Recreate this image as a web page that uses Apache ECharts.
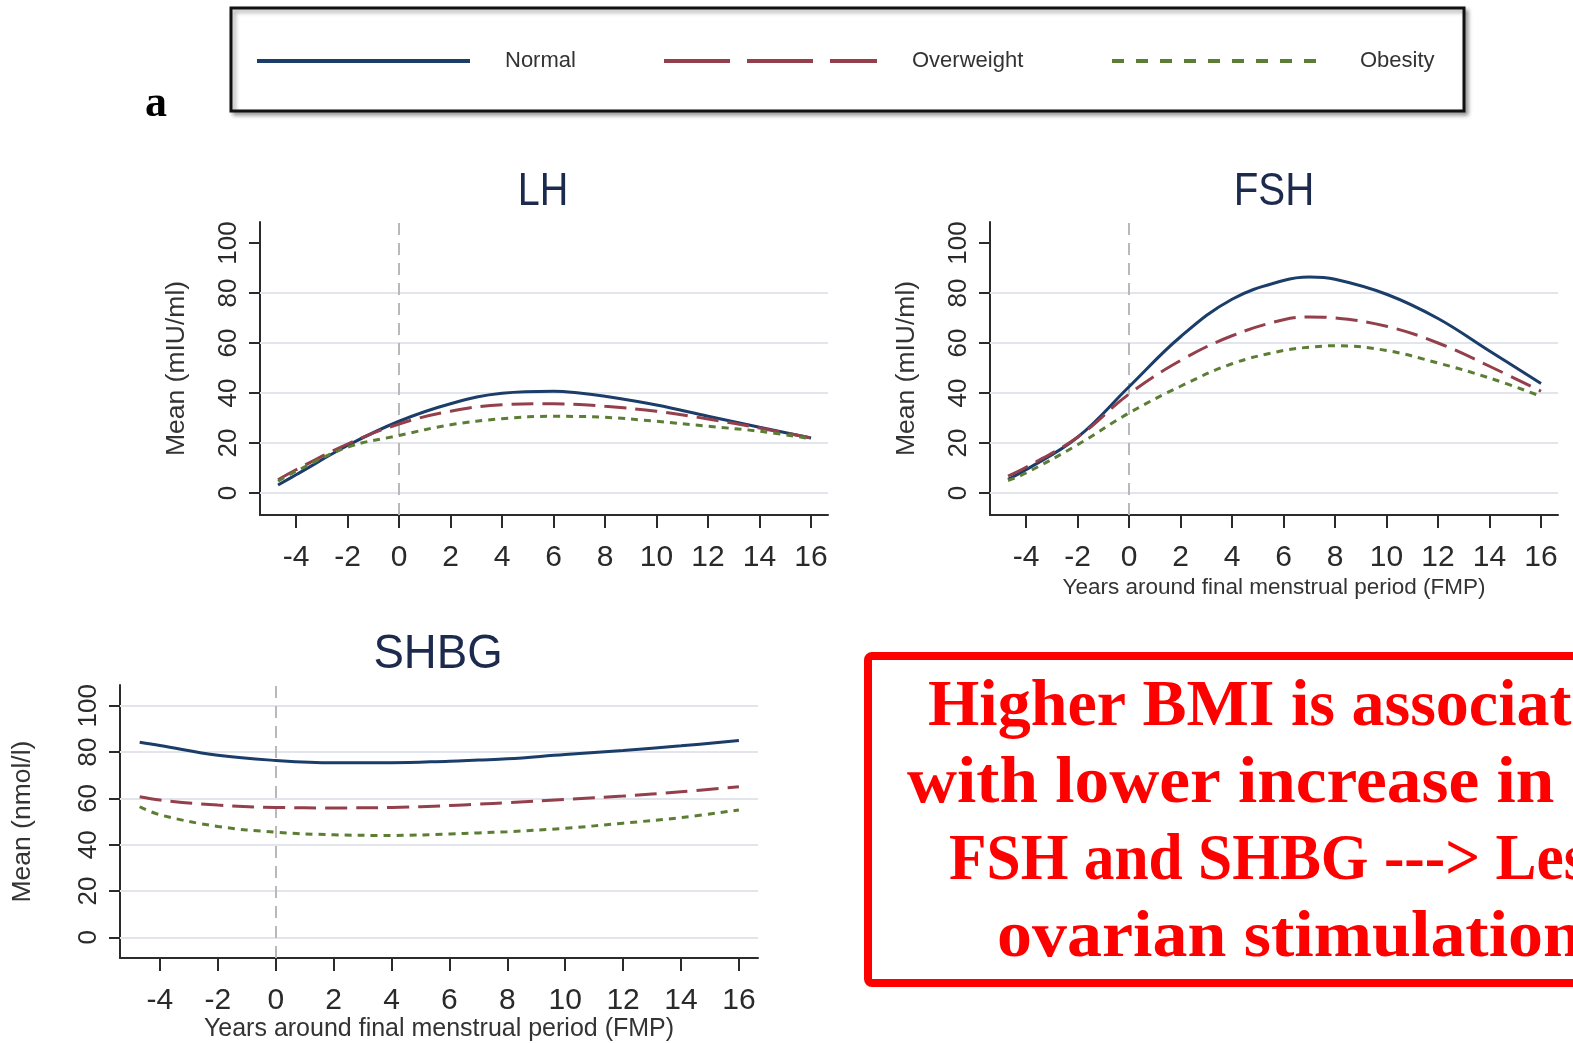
<!DOCTYPE html>
<html>
<head>
<meta charset="utf-8">
<script src="https://cdn.jsdelivr.net/npm/echarts@6/dist/echarts.min.js"></script>
<style>
html,body{margin:0;padding:0;background:#fff;}
#chart{width:1573px;height:1043px;}
</style>
</head>
<body>
<div id="chart"></div>
<script>
// ---- data ----
const years = [-4.7, -4, -2, 0, 2, 4, 6, 7, 8, 10, 12, 14, 16];
const xTicks = [-4, -2, 0, 2, 4, 6, 8, 10, 12, 14, 16];
const yTicks = [0, 20, 40, 60, 80, 100];
const groups = ['Normal', 'Overweight', 'Obesity'];
const panelTitles = ['LH', 'FSH', 'SHBG'];
const yNames = ['Mean (mIU/ml)', 'Mean (mIU/ml)', 'Mean (nmol/l)'];
const xName = 'Years around final menstrual period (FMP)';

const lhNormal     = [3.2, 7.3, 19.0, 28.7, 35.7, 39.9, 40.7, 40.0, 38.7, 35.2, 30.7, 26.3, 22.0];
const lhOverweight = [5.3, 9.3, 19.6, 27.6, 32.7, 35.3, 35.7, 35.4, 34.7, 32.7, 29.6, 26.0, 22.0];
const lhObesity    = [4.7, 8.7, 18.3, 23.0, 27.3, 29.7, 30.7, 30.6, 30.3, 28.7, 26.7, 24.7, 21.7];

const fshNormal     = [5.5, 9.3, 22.3, 42.5, 62.5, 77.5, 85.0, 86.4, 85.5, 79.5, 69.8, 56.8, 43.8];
const fshOverweight = [6.8, 10.3, 22.3, 39.6, 53.0, 62.9, 69.3, 70.4, 70.0, 66.7, 60.0, 50.7, 40.7];
const fshObesity    = [5.0, 8.0, 19.3, 32.0, 42.7, 51.7, 57.0, 58.3, 58.9, 57.0, 52.0, 46.0, 38.7];

const shbgNormal     = [84.3, 82.9, 78.6, 76.4, 75.4, 75.4, 76.1, 76.6, 77.1, 79.0, 80.7, 82.7, 85.0];
const shbgOverweight = [60.7, 59.3, 57.1, 56.1, 55.9, 56.1, 56.9, 57.5, 58.1, 59.6, 61.0, 62.9, 65.0];
const shbgObesity    = [56.4, 52.9, 47.9, 45.4, 44.3, 44.0, 44.6, 45.1, 45.6, 47.1, 49.3, 51.7, 55.0];

const noteLines = ['Higher BMI is associated', 'with lower increase in', 'FSH and SHBG ---> Less', 'ovarian stimulation'];

// ---- styling ----
const SANS = "'Liberation Sans',Arial,sans-serif";
const colors = ['#1b3d6a', '#94404c', '#5b7e34'];
const dashes = ['solid', [22, 9], [7, 6]];
const legendDashes = ['solid', [66, 17], [12, 12]];

const panelData = [
  [lhNormal, lhOverweight, lhObesity],
  [fshNormal, fshOverweight, fshObesity],
  [shbgNormal, shbgOverweight, shbgObesity]
];

const grids = [
  {left: 260, top: 222, width: 568, height: 293},
  {left: 990, top: 222, width: 568, height: 293},
  {left: 120, top: 685, width: 638, height: 275}
];
const xRanges = [[-5.4, 16.66], [-5.4, 16.66], [-5.38, 16.66]];
const yRanges = [[-8.8, 108.4], [-8.8, 108.4], [-9, 109]];
const gridLineVals = [[0, 20, 40, 60, 80], [0, 20, 40, 60, 80], [0, 20, 40, 60, 80, 100]];
const xNameGaps = [0, 61, 56];
const xNameSizes = [22, 22.5, 25];
const yNameGaps = [70, 70, 84];

const xAxes = grids.map((g, i) => ({
  type: 'value', gridIndex: i, min: xRanges[i][0], max: xRanges[i][1],
  name: i === 0 ? '' : xName, nameLocation: 'middle', nameGap: xNameGaps[i],
  nameTextStyle: {fontFamily: SANS, fontSize: xNameSizes[i], color: '#333'},
  axisLine: {show: true, onZero: false, lineStyle: {color: '#2b2b2b', width: 2}},
  axisTick: {show: true, length: 13, customValues: xTicks, lineStyle: {color: '#2b2b2b', width: 2}},
  axisLabel: {customValues: xTicks, margin: 28, fontFamily: SANS, fontSize: 30, color: '#2a2a2a'},
  splitLine: {show: false}
}));
const yAxes = grids.map((g, i) => ({
  type: 'value', gridIndex: i, min: yRanges[i][0], max: yRanges[i][1],
  name: yNames[i], nameLocation: 'middle', nameGap: yNameGaps[i], nameRotate: 90,
  nameTextStyle: {fontFamily: SANS, fontSize: 26.5, color: '#333'},
  axisLine: {show: true, onZero: false, lineStyle: {color: '#2b2b2b', width: 2}},
  axisTick: {show: true, length: 11, customValues: yTicks, lineStyle: {color: '#2b2b2b', width: 2}},
  axisLabel: {customValues: yTicks, rotate: 90, margin: 18, fontFamily: SANS, fontSize: 26, color: '#2a2a2a'},
  splitLine: {show: false}
}));

const series = [];
grids.forEach((g, p) => {
  series.push({
    name: 'ref' + p, type: 'line', xAxisIndex: p, yAxisIndex: p, data: [], z: 1,
    silent: true,
    markLine: {
      silent: true, symbol: 'none', animation: false, label: {show: false},
      lineStyle: {color: '#e2e6ec', width: 2, type: 'solid'},
      data: gridLineVals[p].map(v => ({yAxis: v})).concat([
        {xAxis: 0, lineStyle: {color: '#b9b9b9', width: 2, type: [12, 8]}}
      ])
    }
  });
  groups.forEach((name, k) => {
    series.push({
      name: name, type: 'line', xAxisIndex: p, yAxisIndex: p, z: 10,
      smooth: 0.4, symbol: 'none', animation: false,
      lineStyle: {color: colors[k], width: 3, type: dashes[k]},
      itemStyle: {color: colors[k]},
      data: years.map((x, j) => [x, panelData[p][k][j]])
    });
  });
});

const legendLefts = [255, 662, 1110];
const legends = groups.map((name, k) => ({
  left: legendLefts[k], top: 50, orient: 'horizontal', padding: 0,
  itemWidth: 213, itemHeight: 14, selectedMode: false,
  textStyle: {fontFamily: SANS, fontSize: 22, color: '#333', padding: [0, 0, 0, 30]},
  data: [{name: name, itemStyle: {opacity: 0}, lineStyle: {width: 4, type: legendDashes[k], color: colors[k]}}]
}));

const titleX = [543, 1274, 438];
const titleY = [192, 192, 655];
const titleSize = [46, 46, 48];
const titleScale = [0.86, 0.875, 0.95];

const graphic = [
  {type: 'rect', z: -10, shape: {x: 231, y: 8, width: 1233, height: 103},
   style: {fill: '#fff', stroke: '#111', lineWidth: 3, shadowColor: 'rgba(0,0,0,0.35)', shadowBlur: 4, shadowOffsetX: 3, shadowOffsetY: 3}},
  {type: 'text', x: 156, y: 105, style: {text: 'a', font: "bold 44px 'Liberation Serif',serif", fill: '#000', align: 'center', verticalAlign: 'middle'}},
  {type: 'rect', shape: {x: 868, y: 656, width: 800, height: 327, r: 4},
   style: {fill: '#fff', stroke: '#ff0000', lineWidth: 8}}
];
panelTitles.forEach((t, i) => {
  graphic.push({type: 'text', x: titleX[i], y: titleY[i], scaleX: titleScale[i],
    style: {text: t, font: titleSize[i] + "px " + SANS, fill: '#1c2a4e', align: 'center', verticalAlign: 'middle'}});
});
const noteX = [928, 907, 949, 997];
const noteY = [708, 785, 862, 939];
const noteScale = [1.0, 1.05, 0.93, 1.06];
noteLines.forEach((t, i) => {
  graphic.push({type: 'text', x: noteX[i], y: noteY[i], z: 5, scaleX: noteScale[i],
    style: {text: t, font: "bold 66px 'Liberation Serif','Times New Roman',serif", fill: '#ff0000', align: 'left', verticalAlign: 'middle'}});
});

const chart = echarts.init(document.getElementById('chart'), null, {renderer: 'canvas'});
chart.setOption({
  animation: false,
  backgroundColor: '#fff',
  grid: grids.map(g => Object.assign({containLabel: false}, g)),
  xAxis: xAxes,
  yAxis: yAxes,
  legend: legends,
  graphic: graphic,
  series: series
});
</script>
</body>
</html>
